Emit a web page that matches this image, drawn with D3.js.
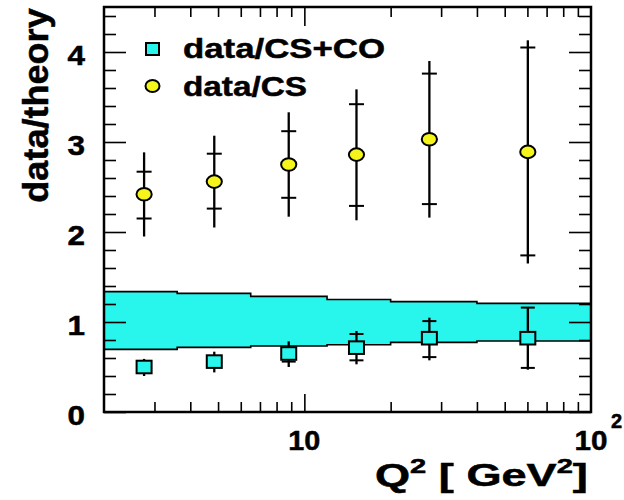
<!DOCTYPE html>
<html>
<head>
<meta charset="utf-8">
<script src="https://cdn.jsdelivr.net/npm/d3@7"></script>
<style>
  html, body { margin: 0; padding: 0; background: #fff; }
  svg { display: block; }
  text { font-family: "Liberation Sans", Arial, Helvetica, sans-serif; font-weight: bold; fill: #000; stroke: #000; stroke-width: 0.5px; }
</style>
</head>
<body>
<svg id="chart" width="624" height="500"></svg>
<script>
// ---------------- data ----------------
const q2 = [2.76, 4.85, 8.82, 15.2, 27.3, 60.2];

// data/CS (yellow circles)
const csVal    = [2.42, 2.56, 2.75, 2.86, 3.03, 2.89];
const csStatLo = [2.15, 2.26, 2.38, 2.29, 2.31, 1.74];
const csStatHi = [2.67, 2.87, 3.12, 3.42, 3.76, 4.05];
const csTotLo  = [1.95, 2.05, 2.17, 2.13, 2.16, 1.65];
const csTotHi  = [2.885, 3.07, 3.33, 3.585, 3.90, 4.13];

// data/CS+CO (cyan squares)
const coVal    = [0.50, 0.56, 0.65, 0.715, 0.82, 0.82];
const coStatLo = [0.46, 0.51, 0.56, 0.574, 0.61, 0.49];
const coStatHi = [0.54, 0.61, 0.70, 0.867, 1.01, 1.16];
const coTotLo  = [0.40, 0.44, 0.50, 0.53, 0.574, 0.47];
const coTotHi  = [0.59, 0.67, 0.785, 0.90, 1.048, 1.165];

// theory band (CS+CO uncertainty), step bins
const bandEdges = [2, 3.6, 6.5, 12, 20, 40, 100];
const bandHi    = [1.337, 1.318, 1.285, 1.25, 1.226, 1.207];
const bandLo    = [0.696, 0.718, 0.733, 0.748, 0.774, 0.789];

const yMajorTicks = [0, 1, 2, 3, 4];
const yTickLabels = ["0", "1", "2", "3", "4"];
const xMinorTicks = [3, 4, 5, 6, 7, 8, 9, 20, 30, 40, 50, 60, 70, 80, 90];
const xMajorTicks = [10];

const legendLabels = ["data/CS+CO", "data/CS"];

// ---------------- layout ----------------
const svg = d3.select("#chart");
const L = 104, R = 591, T = 7, B = 412;
const x = d3.scaleLog().domain([2, 100]).range([L, R]);
const y = d3.scaleLinear().domain([0, 4.5]).range([B, T]);

const CYAN = "#28f5ec", YELLOW = "#f5f51c";

// helper: stretch a text horizontally to a target width
function fitText(g, txt, w) {
  const bw = txt.node().getBBox().width;
  const sx = w / bw;
  const t = g.attr("transform") || "";
  g.attr("transform", t + ` scale(${sx},1)`);
}

// ---------------- band ----------------
const bandData = bandHi.map((h, i) => ({ x0: bandEdges[i], hi: h, lo: bandLo[i] }));
bandData.push({ x0: bandEdges[bandEdges.length - 1], hi: bandHi[bandHi.length - 1], lo: bandLo[bandLo.length - 1] });

svg.append("path")
  .datum(bandData)
  .attr("fill", CYAN)
  .attr("d", d3.area().curve(d3.curveStepAfter)
    .x(d => x(d.x0)).y0(d => y(d.lo)).y1(d => y(d.hi)));
["hi", "lo"].forEach(k => {
  svg.append("path")
    .datum(bandData)
    .attr("fill", "none").attr("stroke", "#000").attr("stroke-width", 1.6)
    .attr("d", d3.line().curve(d3.curveStepAfter).x(d => x(d.x0)).y(d => y(d[k])));
});

// ---------------- axes ticks (inside frame, mirrored) ----------------
const yMinor = d3.range(0, 4.5001, 0.2).map(v => +v.toFixed(2)).filter(v => !yMajorTicks.includes(v));
function tickAxis(axisFn, scale, vals, size, tx, ty) {
  const g = svg.append("g").attr("transform", `translate(${tx},${ty})`)
    .call(axisFn(scale).tickValues(vals).tickSize(size).tickFormat(""));
  g.select(".domain").remove();
  g.selectAll(".tick line").attr("stroke", "#000").attr("stroke-width", 1.6);
}
tickAxis(d3.axisLeft, y, yMinor, -12, L, 0);
tickAxis(d3.axisLeft, y, yMajorTicks, -22, L, 0);
tickAxis(d3.axisRight, y, yMinor, -12, R, 0);
tickAxis(d3.axisRight, y, yMajorTicks, -22, R, 0);
tickAxis(d3.axisBottom, x, xMinorTicks, -10, 0, B);
tickAxis(d3.axisBottom, x, xMajorTicks, -18, 0, B);
tickAxis(d3.axisTop, x, xMinorTicks, -10, 0, T);
tickAxis(d3.axisTop, x, xMajorTicks, -19, 0, T);

// ---------------- error bars ----------------
function errorBars(vals, sLo, sHi, tLo, tHi, tickW) {
  const g = svg.append("g");
  q2.forEach((q, i) => {
    const cx = x(q);
    g.append("line").attr("x1", cx).attr("x2", cx)
      .attr("y1", y(tLo[i])).attr("y2", y(tHi[i]))
      .attr("stroke", "#000").attr("stroke-width", 2.3);
    [sLo[i], sHi[i]].forEach(v => {
      g.append("line").attr("x1", cx - tickW / 2).attr("x2", cx + tickW / 2)
        .attr("y1", y(v)).attr("y2", y(v))
        .attr("stroke", "#000").attr("stroke-width", 2);
    });
  });
}
errorBars(csVal, csStatLo, csStatHi, csTotLo, csTotHi, 15);
svg.append("g").selectAll("ellipse").data(csVal).join("ellipse")
  .attr("cx", (d, i) => x(q2[i])).attr("cy", d => y(d))
  .attr("rx", 7.6).attr("ry", 6.3)
  .attr("fill", YELLOW).attr("stroke", "#000").attr("stroke-width", 2);

errorBars(coVal, coStatLo, coStatHi, coTotLo, coTotHi, 14);
svg.append("g").selectAll("rect").data(coVal).join("rect")
  .attr("x", (d, i) => x(q2[i]) - 7.5).attr("y", d => y(d) - 6.3)
  .attr("width", 15).attr("height", 12.6)
  .attr("fill", CYAN).attr("stroke", "#000").attr("stroke-width", 2);

// ---------------- frame ----------------
svg.append("rect").attr("x", L).attr("y", T).attr("width", R - L).attr("height", B - T)
  .attr("fill", "none").attr("stroke", "#000").attr("stroke-width", 2.5);

// ---------------- tick labels ----------------
yMajorTicks.forEach((v, i) => {
  const g = svg.append("g").attr("transform", `translate(85,${y(v) + 12.5})`);
  const t = g.append("text").attr("text-anchor", "end").attr("font-size", 27).text(yTickLabels[i]);
  fitText(g, t, 17.5);
});
{
  const g = svg.append("g").attr("transform", `translate(${x(10)},450)`);
  const t = g.append("text").attr("text-anchor", "middle").attr("font-size", 28).text("10");
  fitText(g, t, 32);
  const g2 = svg.append("g").attr("transform", `translate(${x(100)},450)`);
  const t2 = g2.append("text").attr("text-anchor", "middle").attr("font-size", 28).text("10");
  fitText(g2, t2, 33);
  svg.append("text").attr("x", 611).attr("y", 428).attr("font-size", 20).text("2");
}

// ---------------- axis titles ----------------
{
  const g = svg.append("g").attr("transform", "translate(375,486)");
  const t = g.append("text").attr("font-size", 31);
  t.append("tspan").text("Q");
  t.append("tspan").attr("font-size", 20).attr("dy", -13).text("2");
  t.append("tspan").attr("dy", 13).text(" [ GeV");
  t.append("tspan").attr("font-size", 20).attr("dy", -13).text("2");
  t.append("tspan").attr("dy", 13).text("]");
  fitText(g, t, 213);
}
{
  const g = svg.append("g").attr("transform", "translate(48,105.5) rotate(-90)");
  const t = g.append("text").attr("text-anchor", "middle").attr("font-size", 35).text("data/theory");
  fitText(g, t, 195);
}

// ---------------- legend ----------------
{
  svg.append("rect").attr("x", 146).attr("y", 43).attr("width", 13).attr("height", 12)
    .attr("fill", CYAN).attr("stroke", "#000").attr("stroke-width", 2);
  svg.append("ellipse").attr("cx", 152.5).attr("cy", 86).attr("rx", 7).attr("ry", 6)
    .attr("fill", YELLOW).attr("stroke", "#000").attr("stroke-width", 2);
  const g1 = svg.append("g").attr("transform", "translate(183,57.5)");
  const t1 = g1.append("text").attr("font-size", 27).text(legendLabels[0]);
  fitText(g1, t1, 202);
  const g2 = svg.append("g").attr("transform", "translate(183,95.5)");
  const t2 = g2.append("text").attr("font-size", 27).text(legendLabels[1]);
  fitText(g2, t2, 124);
}
</script>
</body>
</html>
